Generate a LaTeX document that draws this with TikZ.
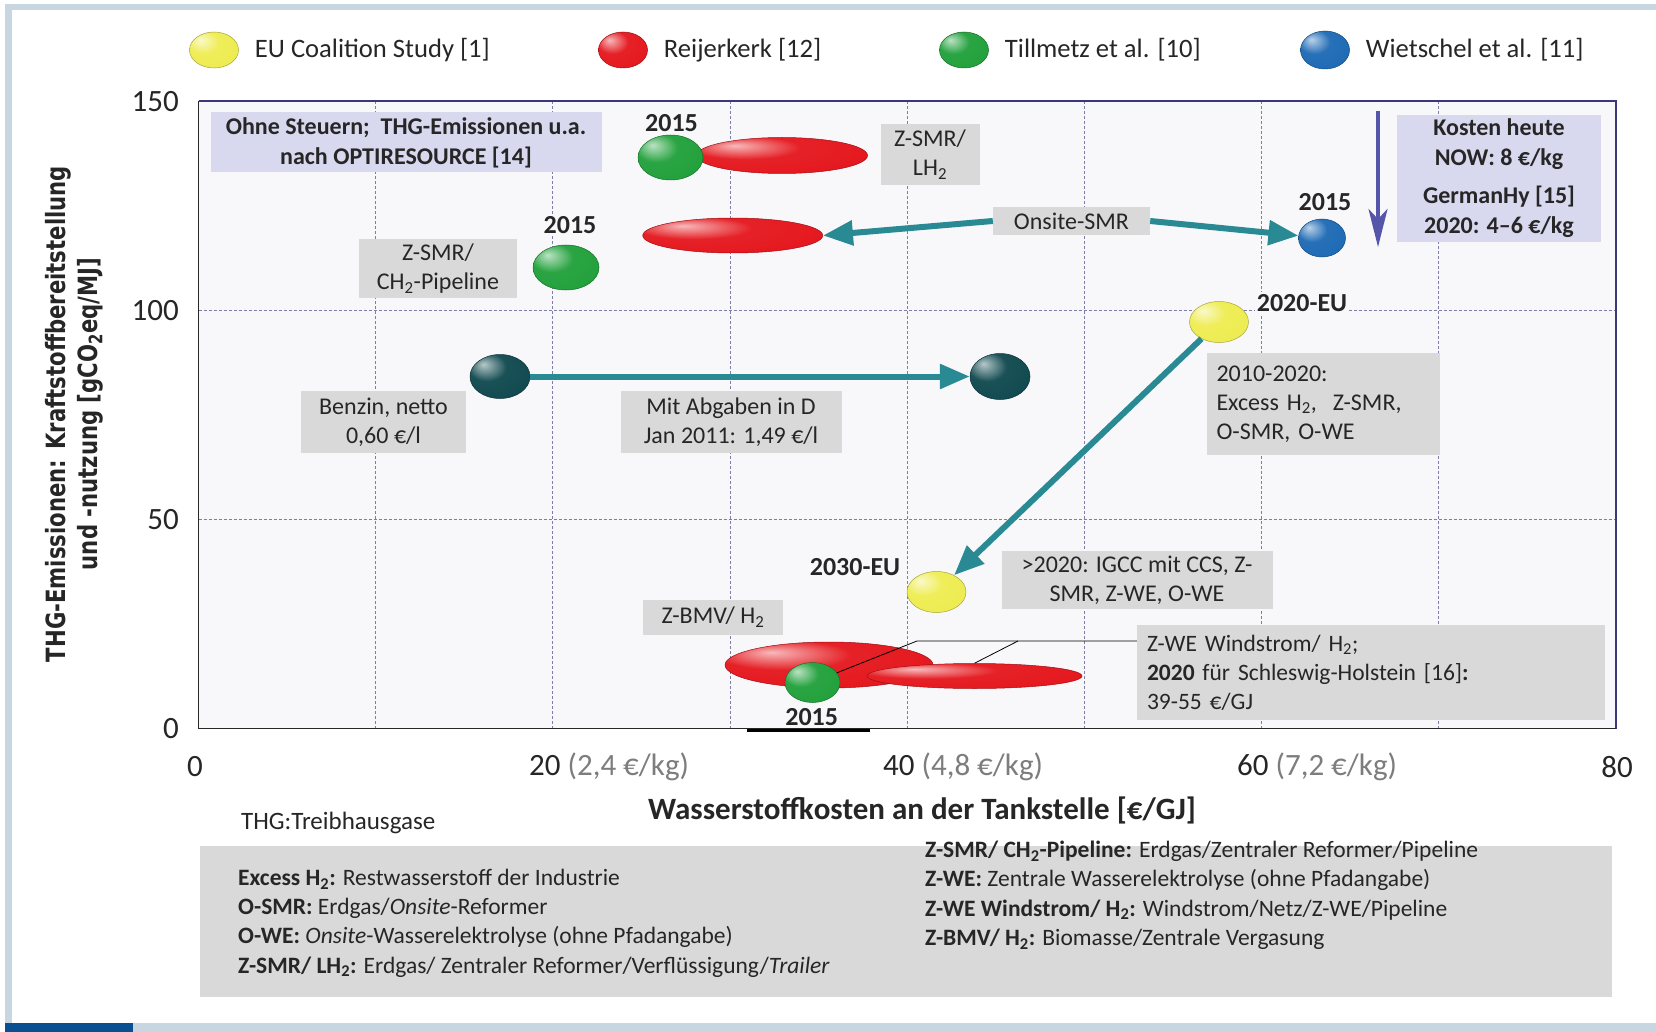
\documentclass[tikz,border=0pt]{standalone}
\usepackage{fontspec}
\setmainfont{Carlito}
\newfontfamily\axisfont{DejaVu Sans}[FakeStretch=0.8]
\usetikzlibrary{arrows.meta, positioning, shapes.geometric}

\definecolor{framebar}{RGB}{200,214,225}
\definecolor{framedark}{RGB}{10,80,145}
\definecolor{plotbg}{RGB}{248,248,250}
\definecolor{gridcol}{RGB}{125,125,165}
\definecolor{plotedge}{RGB}{60,55,120}
\definecolor{boxgrey}{RGB}{217,217,217}
\definecolor{boxlav}{RGB}{216,216,238}
\definecolor{textdark}{RGB}{38,38,38}
\definecolor{tickgrey}{RGB}{125,125,125}
\definecolor{arrowteal}{RGB}{42,138,148}
\definecolor{costpurple}{RGB}{85,85,170}
\definecolor{balyellow}{RGB}{238,236,80}
\definecolor{balred}{RGB}{228,22,28}
\definecolor{balgreen}{RGB}{32,160,58}
\definecolor{balblue}{RGB}{28,105,180}
\definecolor{balteal}{RGB}{14,72,78}
\colorlet{ballhue}{red}

% glossy look for the data points
\pgfdeclareradialshading[ballhue]{glossy}{\pgfpoint{-14bp}{14bp}}{%
  color(0bp)=(ballhue!30!white); color(16bp)=(ballhue!95!white);
  color(40bp)=(ballhue); color(58bp)=(ballhue!70!black); color(70bp)=(ballhue!70!black)}

\tikzset{
  glossball/.style={ellipse, inner sep=0pt, /utils/exec={\colorlet{ballhue}{#1}},
    shade, shading=glossy, draw=#1!70!black, line width=0.5pt},
  legendtext/.style={font=\fontsize{26.6}{30}\selectfont, text=textdark, inner sep=0pt},
  ticklabel/.style={font=\fontsize{31}{34}\selectfont, text=textdark, inner sep=0pt},
  greybox/.style={fill=boxgrey, text=textdark, inner sep=0pt, align=center,
    font=\fontsize{24}{29}\selectfont},
  lavbox/.style={fill=boxlav, text=textdark, inner sep=0pt, align=center,
    font=\bfseries\fontsize{24}{30}\selectfont},
  yearlabel/.style={fill=plotbg, text=textdark, inner sep=2pt,
    font=\bfseries\fontsize{26}{30}\selectfont},
  abbrtext/.style={text=textdark, inner sep=0pt, align=left,
    font=\fontsize{23.5}{29.2}\selectfont},
  gridline/.style={draw=gridcol, line width=0.8pt, dash pattern=on 3pt off 2pt},
  tealarrow/.style={draw=arrowteal, line width=6pt, -{Triangle[length=30pt,width=24pt]}},
  costarrow/.style={draw=costpurple, line width=3.5pt, -{Stealth[length=38pt,width=19pt,inset=10pt]}},
  calloutline/.style={draw=black, line width=0.8pt},
}

\begin{document}
\begin{tikzpicture}[x=1pt, y=-1pt]
\useasboundingbox (0,0) rectangle (1656,1032);
\fill[white] (0,0) rectangle (1656,1032);
% page frame
\fill[framebar] (5,4) rectangle (1656,10);
\fill[framebar] (5,4) rectangle (12,1032);
\fill[framebar] (5,1023) rectangle (1656,1032);
\fill[framedark] (5,1023) rectangle (133,1032);

% legend
\node[glossball=balyellow, minimum width=49pt, minimum height=36pt] (legeu) at (214,50) {};
\node[legendtext, right=16pt of legeu] (legeutext) {EU Coalition Study [1]};
\node[glossball=balred, minimum width=49pt, minimum height=36pt] (legrei) at (623,50) {};
\node[legendtext, right=16pt of legrei] (legreitext) {Reijerkerk [12]};
\node[glossball=balgreen, minimum width=49pt, minimum height=36pt] (legtil) at (964,50) {};
\node[legendtext, right=16pt of legtil] (legtiltext) {Tillmetz et al. [10]};
\node[glossball=balblue, minimum width=49pt, minimum height=38pt] (legwie) at (1325,50) {};
\node[legendtext, right=16pt of legwie] (legwietext) {Wietschel et al. [11]};

% plot area and grid
\fill[plotbg] (198.5,101.4) rectangle (1615.8,728.7);
\foreach \gx in {10,20,...,70}
  \draw[gridline] ({198.5+17.716*\gx},101.4) -- ({198.5+17.716*\gx},728.7);
\foreach \gy in {50,100}
  \draw[gridline] (198.5,{728.7-4.182*\gy}) -- (1615.8,{728.7-4.182*\gy});
\draw[plotedge, line width=2pt] (198.5,101.4) -- (1615.8,101.4) -- (1615.8,728.7);
\draw[black!85, line width=1.5pt] (198.5,101.4) -- (198.5,728.7) -- (1615.8,728.7);

% axis labels
\foreach \val/\py in {150/101.4, 100/310.5, 50/519.6, 0/728.7}
  \node[ticklabel, anchor=east] (ytick\val) at (179,\py) {\val};
\node[ticklabel] (xtick0) at (195,767) {0};
\node[ticklabel, anchor=west] (xtick20) at (529,767) {20 \textcolor{tickgrey}{(2,4 €/kg)}};
\node[ticklabel, anchor=west] (xtick40) at (883,767) {40 \textcolor{tickgrey}{(4,8 €/kg)}};
\node[ticklabel, anchor=west] (xtick60) at (1237,767) {60 \textcolor{tickgrey}{(7,2 €/kg)}};
\node[ticklabel] (xtick80) at (1617,767) {80};
\node[text=textdark, font=\bfseries\fontsize{31}{34}\selectfont] (xtitle) at (922,810)
  {Wasserstoffkosten an der Tankstelle [€/GJ]};
\node[rotate=90, align=center, text=textdark, font=\axisfont\bfseries\fontsize{26.5}{32}\selectfont]
  (ytitle) at (74,414) {THG-Emissionen: Kraftstoffbereitstellung\\und -nutzung [gCO\textsubscript{2}eq/MJ]};

% info boxes at the top
\node[lavbox, minimum width=391pt, minimum height=60pt] (taxbox) at (406,142.5)
  {Ohne Steuern;\ \ THG-Emissionen u.a.\\nach OPTIRESOURCE [14]};
\node[lavbox, minimum width=204pt, minimum height=127pt] (costbox) at (1499,178.5)
  {Kosten heute\\NOW: 8 €/kg\\[8pt]GermanHy [15]\\2020: 4–6 €/kg};
\coordinate (costtop) at (1378,111);
\coordinate (costbot) at (1378,247);
\draw[costarrow] (costtop) -- (costbot);

% Z-SMR / LH2
\node[yearlabel] (yrlh) at (671.5,123.5) {2015};
\node[glossball=balred, minimum width=171pt, minimum height=36pt] (redlh) at (782,155.5) {};
\node[glossball=balgreen, minimum width=65pt, minimum height=45pt] (greenlh) at (670.5,157.5) {};
\node[greybox, minimum width=99pt, minimum height=61pt] (lhbox) at (930,155) {Z-SMR/\\LH\textsubscript{2}};

% Onsite-SMR
\node[glossball=balred, minimum width=180pt, minimum height=35pt] (redonsite) at (732.7,235.5) {};
\node[greybox, minimum width=157pt, minimum height=28pt] (onsite) at (1071.5,221) {Onsite-SMR};
\node[yearlabel] (yrblue) at (1325,202.5) {2015};
\node[glossball=balblue, minimum width=47pt, minimum height=38pt] (blueonsite) at (1322,238) {};
\draw[tealarrow] (onsite.west) -- (redonsite.east);
\draw[tealarrow] (onsite.east) -- (blueonsite);

% Z-SMR / CH2-Pipeline
\node[yearlabel] (yrpipe) at (570,225) {2015};
\node[glossball=balgreen, minimum width=66pt, minimum height=45pt] (greenpipe) at (566,267.5) {};
\node[greybox, minimum width=158pt, minimum height=59pt] (pipebox) at (438,268.5)
  {Z-SMR/\\CH\textsubscript{2}-Pipeline};

% EU 2020 -> 2030
\node[yearlabel] (yreu20) at (1302,303) {2020-EU};
\node[glossball=balyellow, minimum width=59pt, minimum height=41pt] (eu2020) at (1219,322) {};
\node[greybox, minimum width=233pt, minimum height=102pt, text width=213pt, align=left]
  (eubox20) at (1323,404) {2010-2020:\\Excess H\textsubscript{2},\ \ Z-SMR,\\O-SMR, O-WE};
\node[yearlabel] (yreu30) at (855,567) {2030-EU};
\node[glossball=balyellow, minimum width=59pt, minimum height=41pt] (eu2030) at (936.5,592) {};
\draw[tealarrow] (eu2020) -- (eu2030);
\node[greybox, minimum width=271pt, minimum height=58pt] (eubox30) at (1137,580)
  {>2020: IGCC mit CCS, Z-\\SMR, Z-WE, O-WE};

% Benzin
\node[glossball=balteal, minimum width=60pt, minimum height=44pt] (benzinl) at (500,376.5) {};
\node[glossball=balteal, minimum width=60pt, minimum height=46pt] (benzinr) at (1000,376.5) {};
\draw[tealarrow] (benzinl) -- (benzinr);
\node[greybox, minimum width=165pt, minimum height=62pt] (benzinbox) at (383.5,422) {Benzin, netto\\0,60 €/l};
\node[greybox, minimum width=221pt, minimum height=62pt] (abgabenbox) at (731,422)
  {Mit Abgaben in D\\Jan 2011: 1,49 €/l};

% Z-BMV and Z-WE Windstrom
\node[greybox, minimum width=140pt, minimum height=35pt] (bmvbox) at (713,617.5) {Z-BMV/ H\textsubscript{2}};
\node[glossball=balred, minimum width=208pt, minimum height=46pt] (redbmv) at (829,665) {};
\node[glossball=balred, minimum width=215pt, minimum height=25pt] (redwind) at (974.5,676) {};
\node[glossball=balgreen, minimum width=55pt, minimum height=40pt] (greenbmv) at (812.5,682.5) {};
\node[yearlabel] (yrbmv) at (811.7,717) {2015};
\node[greybox, minimum width=468pt, minimum height=95pt, text width=448pt, align=left,
  font=\fontsize{23.5}{29}\selectfont] (windbox) at (1371,672.5)
  {Z-WE Windstrom/ H\textsubscript{2};\\\textbf{2020} für Schleswig-Holstein [16]\textbf{:}\\39-55 €/GJ};
\coordinate (kneebmv) at (917,641);
\coordinate (kneewind) at (1018,641);
\draw[calloutline] (windbox.west |- kneebmv) -- (kneebmv) -- (greenbmv);
\draw[calloutline] (kneewind) -- (redwind.north);
\draw[line width=3pt] (747,730) -- (870,730);

% abbreviations
\node[anchor=west, text=textdark, inner sep=0pt, font=\fontsize{25}{30}\selectfont] (thgnote) at (241,823)
  {THG:Treibhausgase};
\fill[boxgrey] (200,846) rectangle (1612,997);
\node[abbrtext, anchor=north west] (abbrleft) at (238,869)
  {\textbf{Excess H\textsubscript{2}:} Restwasserstoff der Industrie\\
   \textbf{O-SMR:} Erdgas/\textit{Onsite}-Reformer\\
   \textbf{O-WE:} \textit{Onsite}-Wasserelektrolyse (ohne Pfadangabe)\\
   \textbf{Z-SMR/ LH\textsubscript{2}:} Erdgas/ Zentraler Reformer/Verflüssigung/\textit{Trailer}};
\node[abbrtext, anchor=north west] (abbrright) at (925,841)
  {\textbf{Z-SMR/ CH\textsubscript{2}-Pipeline:} Erdgas/Zentraler Reformer/Pipeline\\
   \textbf{Z-WE:} Zentrale Wasserelektrolyse (ohne Pfadangabe)\\
   \textbf{Z-WE Windstrom/ H\textsubscript{2}:} Windstrom/Netz/Z-WE/Pipeline\\
   \textbf{Z-BMV/ H\textsubscript{2}:} Biomasse/Zentrale Vergasung};
\end{tikzpicture}
\end{document}
